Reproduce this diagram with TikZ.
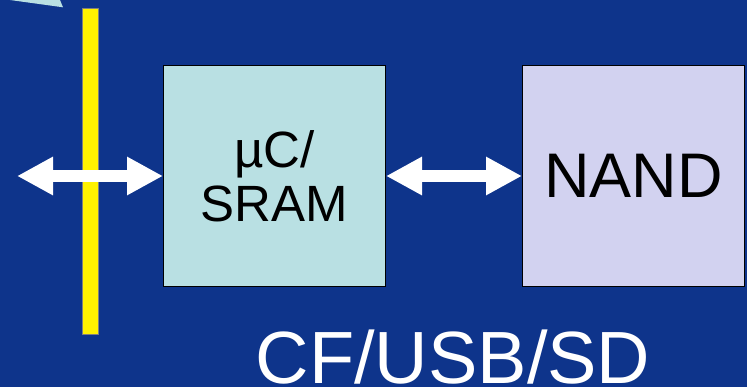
\documentclass[tikz,border=0pt]{standalone}
\usepackage{fontspec}
\setmainfont{Liberation Sans}
\usepackage{tikz}
\usetikzlibrary{arrows.meta,positioning}
\definecolor{slidebg}{RGB}{14,52,139}
\definecolor{ctrlfill}{RGB}{185,224,227}
\definecolor{nandfill}{RGB}{210,210,240}

\begin{document}
\begin{tikzpicture}[x=1pt, y=-1pt, node distance=136pt]
\tikzstyle{block} = [rectangle, draw=black, line width=1pt, minimum width=222pt, minimum height=221pt, align=center, inner sep=0pt]
\tikzstyle{biline} = [draw=white, line width=12pt, {Triangle[length=36pt,width=36pt]}-{Triangle[length=36pt,width=36pt]}]

% background
\useasboundingbox[fill=slidebg] (0,0) rectangle (747,387);
\fill[ctrlfill] (10,0) -- (63,7.3) -- (60,0) -- cycle;

\node [draw=gray, line width=0.6pt, fill=yellow, minimum width=16.5pt, minimum height=326pt, inner sep=0pt] (bus) at (90.3,171) {};

\node [block, fill=ctrlfill, font=\fontsize{51}{54}\selectfont] (ctrl) at (274.5,176) {µC/\\SRAM};
\node [block, fill=nandfill, font=\fontsize{63}{66}\selectfont, right=of ctrl] (nand) {NAND};
\coordinate (host) at (17,176);

\node [anchor=base, text=white, font=\fontsize{74}{80}\selectfont, inner sep=0pt] (card) at (453,383) {CF/USB/SD};

\path [biline] (host) -- (ctrl.west);
\path [biline] (ctrl.east) -- (nand.west);

\end{tikzpicture}
\end{document}
